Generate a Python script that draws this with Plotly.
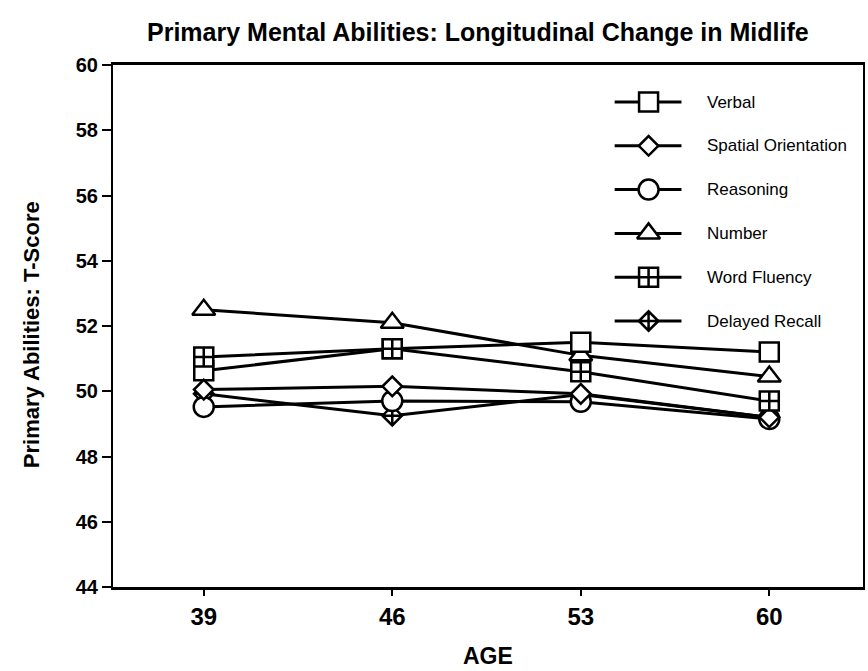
import plotly.graph_objects as go

# Ages at which each ability was measured
ages = [39, 46, 53, 60]

# Mean T-scores per ability
verbal = [50.63, 51.3, 51.5, 51.2]
spatial = [50.05, 50.15, 49.92, 49.2]
reasoning = [49.52, 49.7, 49.68, 49.15]
number = [52.5, 52.1, 51.1, 50.45]
word_fluency = [51.05, 51.3, 50.6, 49.7]
delayed_recall = [49.92, 49.25, 49.9, 49.2]

y_ticks = [44, 46, 48, 50, 52, 54, 56, 58, 60]

# name, values, marker symbol, marker size
series = {
    "Verbal": (verbal, "square", 19),
    "Spatial Orientation": (spatial, "diamond", 15),
    "Reasoning": (reasoning, "circle", 20),
    "Number": (number, "triangle-up", 20),
    "Word Fluency": (word_fluency, "square-cross", 19),
    "Delayed Recall": (delayed_recall, "diamond-cross", 15),
}
# drawing order (later traces sit on top)
draw_order = ["Number", "Verbal", "Delayed Recall", "Reasoning",
              "Spatial Orientation", "Word Fluency"]
legend_order = ["Verbal", "Spatial Orientation", "Reasoning", "Number",
                "Word Fluency", "Delayed Recall"]

BOLD = "Liberation Sans, Arial, sans-serif"
fig = go.Figure()

for name in draw_order:
    vals, sym, size = series[name]
    fig.add_trace(go.Scatter(
        x=ages, y=vals, mode="lines+markers", name=name,
        line=dict(color="black", width=3),
        marker=dict(symbol=sym, size=size, color="white",
                    line=dict(color="black", width=2.5)),
        showlegend=False, cliponaxis=False,
    ))

# Hand-drawn key on an overlay axis measured in plot-area pixels
W, H = 752, 522
key_x0, key_x1, key_mid, key_text = 503, 570, 537, 594
key_row0, key_step = 37, 43.8
for i, name in enumerate(legend_order):
    _, sym, size = series[name]
    ry = key_row0 + i * key_step
    fig.add_trace(go.Scatter(
        x=[key_x0, key_x1], y=[ry, ry], mode="lines",
        line=dict(color="black", width=3), showlegend=False,
        xaxis="x2", yaxis="y2", hoverinfo="skip",
    ))
    fig.add_trace(go.Scatter(
        x=[key_mid], y=[ry], mode="markers",
        marker=dict(symbol=sym, size=size, color="white",
                    line=dict(color="black", width=2.5)),
        showlegend=False, xaxis="x2", yaxis="y2", hoverinfo="skip",
    ))
    fig.add_annotation(
        x=key_text, y=ry, xref="x2", yref="y2", text=name,
        showarrow=False, xanchor="left", yanchor="middle",
        font=dict(family="Liberation Sans, Arial", size=17, color="black"),
    )

fig.update_layout(
    width=868, height=671,
    margin=dict(l=113, r=3, t=65, b=84),
    paper_bgcolor="white", plot_bgcolor="white",
    showlegend=False,
    xaxis=dict(
        range=[35.63, 63.48], tickvals=ages, ticktext=[str(a) for a in ages],
        showgrid=False, zeroline=False,
        showline=True, linecolor="black", linewidth=3, mirror=True,
        ticks="outside", ticklen=6, tickwidth=2, tickcolor="black",
        tickfont=dict(family=BOLD, size=24, color="black", weight="bold"),
    ),
    yaxis=dict(
        range=[44, 60], tickvals=y_ticks, showgrid=False, zeroline=False,
        showline=True, linecolor="black", linewidth=2, mirror=True,
        ticks="outside", ticklen=9, tickwidth=2, tickcolor="black",
        tickfont=dict(family=BOLD, size=20, color="black", weight="bold"),
    ),
    xaxis2=dict(overlaying="x", range=[0, W], visible=False),
    yaxis2=dict(overlaying="y", range=[H, 0], visible=False),
)

# chart title
fig.add_annotation(
    x=(479 - 113) / W, y=1 + (65 - 32) / H, xref="paper", yref="paper",
    yanchor="middle",
    text="<b>Primary Mental Abilities: Longitudinal Change in Midlife</b>",
    showarrow=False, font=dict(family=BOLD, size=25, color="black"),
)
# axis titles
fig.add_annotation(
    x=(489 - 113) / W, y=-(656 - 587) / H, xref="paper", yref="paper",
    text="<b>AGE</b>", showarrow=False, yanchor="middle",
    font=dict(family=BOLD, size=23, color="black"),
)
fig.add_annotation(
    x=-(113 - 32) / W, y=(587 - 335) / H, xref="paper", yref="paper",
    text="<b>Primary Abilities: T-Score</b>", showarrow=False,
    textangle=-90, xanchor="center", yanchor="middle",
    font=dict(family=BOLD, size=22, color="black"),
)

fig.write_html("out.html")
